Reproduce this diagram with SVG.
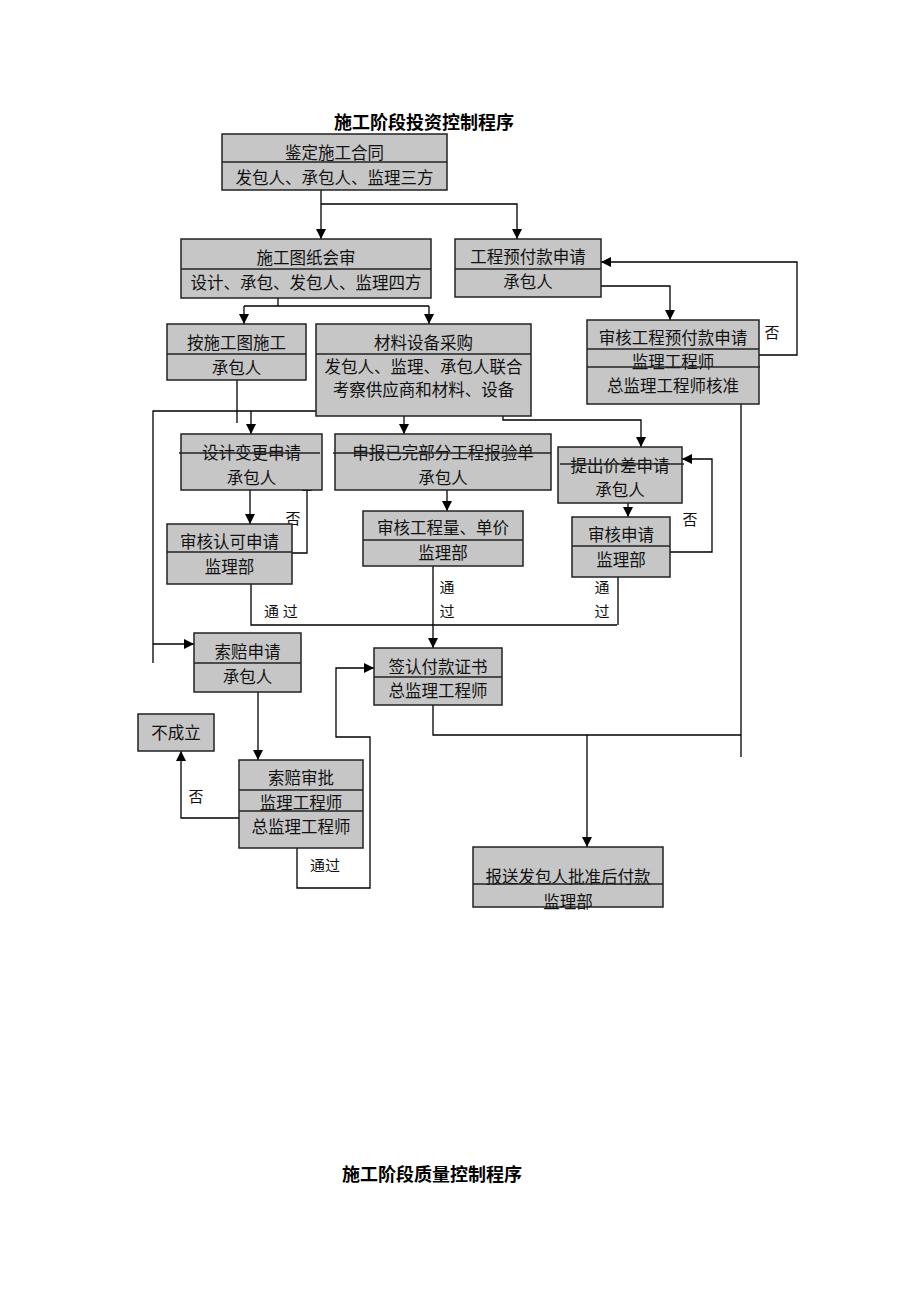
<svg xmlns="http://www.w3.org/2000/svg" width="920" height="1302" viewBox="0 0 920 1302">
<defs>
<marker id="ah" viewBox="0 0 10 10" refX="10" refY="5" markerWidth="10" markerHeight="10" markerUnits="userSpaceOnUse" orient="auto">
<path d="M0,0 L10,5 L0,10 z" fill="#000"/>
</marker>
</defs>
<style>
.box{fill:#c6c6c6;stroke:#222;stroke-width:1.5}
.div{stroke:#222;stroke-width:1.3;fill:none}
.t{font-family:"Liberation Serif","Noto Sans CJK SC",serif;font-size:16.5px;fill:#111;text-anchor:middle;dominant-baseline:central}
.lb{font-family:"Liberation Serif","Noto Sans CJK SC",serif;font-size:15px;fill:#111;text-anchor:middle;dominant-baseline:central}
.title{font-family:"Liberation Sans","Noto Sans CJK SC",sans-serif;font-size:18px;font-weight:bold;fill:#000;text-anchor:middle;dominant-baseline:central}
.c{stroke:#000;stroke-width:1.3;fill:none}
.a{stroke:#000;stroke-width:1.3;fill:none;marker-end:url(#ah)}
</style>
<rect width="920" height="1302" fill="#fff"/>
<text class="title" x="424" y="123">施工阶段投资控制程序</text>
<text class="title" x="432" y="1175">施工阶段质量控制程序</text>

<g id="connectors">
<polyline class="a" points="321,190 321,239"/>
<polyline class="a" points="321,204 517,204 517,239"/>
<polyline class="c" points="278,298 278,306"/>
<polyline class="c" points="244,306 429,306"/>
<polyline class="a" points="244,306 244,324"/>
<polyline class="a" points="429,306 429,324"/>
<polyline class="a" points="601,286 670,286 670,320"/>
<polyline class="a" points="759,355 797,355 797,262 601,262"/>
<polyline class="c" points="237,380 237,423"/>
<polyline class="c" points="404,411 153,411 153,663"/>
<polyline class="a" points="251,411 251,434"/>
<polyline class="a" points="404,411 404,434"/>
<polyline class="a" points="153,644 194,644"/>
<polyline class="a" points="503,416 503,420 641,420 641,447"/>
<polyline class="a" points="250,482 250,524"/>
<polyline class="a" points="292,553 307,553 307,481"/>
<polyline class="c" points="251,584 251,625 617,625"/>
<polyline class="a" points="447,478 447,511"/>
<polyline class="a" points="433,566 433,648"/>
<polyline class="a" points="628,490 628,517"/>
<polyline class="a" points="670,552 712,552 712,459 682,459"/>
<polyline class="c" points="618,577 618,625"/>
<polyline class="a" points="258,692 258,760"/>
<polyline class="a" points="239,818 181,818 181,751"/>
<polyline class="a" points="297,848 297,888 370,888 370,737 336,737 336,668 374,668"/>
<polyline class="c" points="433,705 433,735 741,735"/>
<polyline class="c" points="741,404 741,757"/>
<polyline class="a" points="587,735 587,847"/>
<text class="lb" x="772" y="333">否</text>
<text class="lb" x="293" y="519">否</text>
<text class="lb" x="281" y="612">通 过</text>
<text class="lb" x="447" y="588">通</text>
<text class="lb" x="447" y="612">过</text>
<text class="lb" x="690" y="520">否</text>
<text class="lb" x="602" y="588">通</text>
<text class="lb" x="602" y="612">过</text>
<text class="lb" x="196" y="797">否</text>
<text class="lb" x="325" y="866">通过</text>
</g>

<g id="n1">
<rect class="box" x="222" y="134" width="225" height="56"/>
<line class="div" x1="222" y1="162" x2="447" y2="162"/>
<text class="t" x="334.5" y="153">鉴定施工合同</text>
<text class="t" x="334.5" y="178">发包人、承包人、监理三方</text>
</g>
<g id="n2">
<rect class="box" x="181" y="239" width="250" height="59"/>
<line class="div" x1="181" y1="269" x2="431" y2="269"/>
<text class="t" x="306" y="258">施工图纸会审</text>
<text class="t" x="306" y="283">设计、承包、发包人、监理四方</text>
</g>
<g id="n3">
<rect class="box" x="455" y="239" width="146" height="58"/>
<line class="div" x1="455" y1="269" x2="601" y2="269"/>
<text class="t" x="528" y="257">工程预付款申请</text>
<text class="t" x="528" y="282">承包人</text>
</g>
<g id="n4">
<rect class="box" x="587" y="320" width="172" height="84"/>
<line class="div" x1="587" y1="349" x2="759" y2="349"/>
<text class="t" x="673" y="338">审核工程预付款申请</text>
<text class="t" x="673" y="362">监理工程师</text>
<line class="div" x1="587" y1="367" x2="760" y2="367"/>
<text class="t" x="673" y="386">总监理工程师核准</text>
</g>
<g id="n5">
<rect class="box" x="167" y="324" width="139" height="56"/>
<line class="div" x1="167" y1="354" x2="306" y2="354"/>
<text class="t" x="236.5" y="343">按施工图施工</text>
<text class="t" x="236.5" y="368">承包人</text>
</g>
<g id="n6">
<rect class="box" x="316" y="324" width="215" height="92"/>
<line class="div" x1="316" y1="354" x2="531" y2="354"/>
<text class="t" x="423.5" y="343">材料设备采购</text>
<text class="t" x="423.5" y="367">发包人、监理、承包人联合</text>
<text class="t" x="423.5" y="390">考察供应商和材料、设备</text>
</g>
<g id="n7">
<rect class="box" x="181" y="434" width="141" height="56"/>
<text class="t" x="251.5" y="453">设计变更申请</text>
<text class="t" x="251.5" y="478">承包人</text>
<line class="div" x1="179" y1="453" x2="320" y2="453"/>
</g>
<g id="n8">
<rect class="box" x="335" y="434" width="216" height="56"/>
<text class="t" x="443" y="453">申报已完部分工程报验单</text>
<text class="t" x="443" y="478">承包人</text>
<line class="div" x1="333" y1="453" x2="551" y2="453"/>
</g>
<g id="n9">
<rect class="box" x="558" y="447" width="124" height="56"/>
<text class="t" x="620" y="466">提出价差申请</text>
<text class="t" x="620" y="490">承包人</text>
<line class="div" x1="560" y1="464" x2="684" y2="464"/>
</g>
<g id="n10">
<rect class="box" x="167" y="524" width="125" height="60"/>
<line class="div" x1="167" y1="552" x2="292" y2="552"/>
<text class="t" x="229.5" y="542">审核认可申请</text>
<text class="t" x="229.5" y="567">监理部</text>
</g>
<g id="n11">
<rect class="box" x="363" y="511" width="160" height="55"/>
<line class="div" x1="363" y1="540" x2="523" y2="540"/>
<text class="t" x="443" y="528">审核工程量、单价</text>
<text class="t" x="443" y="553">监理部</text>
</g>
<g id="n12">
<rect class="box" x="572" y="517" width="98" height="60"/>
<line class="div" x1="572" y1="546" x2="670" y2="546"/>
<text class="t" x="621" y="535">审核申请</text>
<text class="t" x="621" y="560">监理部</text>
</g>
<g id="n13">
<rect class="box" x="194" y="633" width="107" height="59"/>
<line class="div" x1="194" y1="663" x2="301" y2="663"/>
<text class="t" x="247.5" y="652">索赔申请</text>
<text class="t" x="247.5" y="677">承包人</text>
</g>
<g id="n14">
<rect class="box" x="374" y="648" width="128" height="57"/>
<line class="div" x1="374" y1="677" x2="502" y2="677"/>
<text class="t" x="438" y="667">签认付款证书</text>
<text class="t" x="438" y="691">总监理工程师</text>
</g>
<g id="n15">
<rect class="box" x="138" y="714" width="76" height="37"/>
<text class="t" x="176" y="733">不成立</text>
</g>
<g id="n16">
<rect class="box" x="239" y="760" width="124" height="88"/>
<line class="div" x1="239" y1="790" x2="363" y2="790"/>
<text class="t" x="301" y="778">索赔审批</text>
<text class="t" x="301" y="803">监理工程师</text>
<line class="div" x1="239" y1="811" x2="363" y2="811"/>
<text class="t" x="301" y="827">总监理工程师</text>
</g>
<g id="n17">
<rect class="box" x="473" y="847" width="190" height="60"/>
<text class="t" x="568" y="877">报送发包人批准后付款</text>
<text class="t" x="568" y="902">监理部</text>
<line class="div" x1="473" y1="884" x2="663" y2="884"/>
</g>
</svg>
